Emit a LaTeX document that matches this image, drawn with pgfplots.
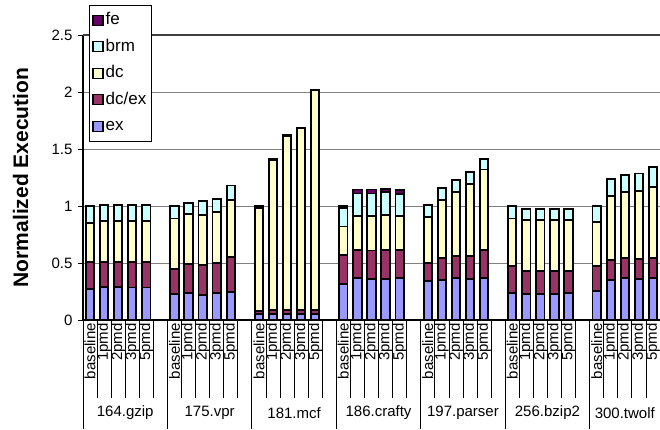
\documentclass[border=0pt]{standalone}
\usepackage{fontspec}
\setmainfont{Liberation Sans}
\usepackage{pgfplots}
\usepackage{pgfplotstable}
\pgfplotsset{compat=1.18}
\definecolor{cex}{HTML}{9999FF}
\definecolor{cdcex}{HTML}{993366}
\definecolor{cdc}{HTML}{FFFFCC}
\definecolor{cbrm}{HTML}{CCFFFF}
\definecolor{cfe}{HTML}{660066}

\pgfplotstableread{
x ex dcex dc brm fe
0 0.27 0.24 0.34 0.15 0
1 0.29 0.215 0.36 0.145 0
2 0.29 0.215 0.36 0.145 0
3 0.285 0.22 0.36 0.14 0
4 0.285 0.22 0.36 0.14 0
6 0.23 0.22 0.44 0.11 0
7 0.24 0.25 0.44 0.10 0
8 0.22 0.26 0.44 0.12 0
9 0.24 0.26 0.45 0.11 0
10 0.245 0.305 0.505 0.125 0
12 0.05 0.03 0.905 0.01 0.005
13 0.05 0.04 1.31 0.01 0
14 0.05 0.04 1.52 0.01 0
15 0.05 0.04 1.59 0.005 0
16 0.05 0.04 1.925 0.005 0
18 0.315 0.255 0.25 0.165 0.015
19 0.365 0.25 0.30 0.195 0.035
20 0.36 0.25 0.305 0.195 0.035
21 0.36 0.255 0.305 0.20 0.03
22 0.365 0.25 0.30 0.19 0.035
24 0.345 0.155 0.40 0.105 0
25 0.35 0.195 0.505 0.11 0
26 0.365 0.20 0.555 0.11 0
27 0.36 0.205 0.625 0.11 0
28 0.365 0.25 0.705 0.09 0
30 0.235 0.235 0.42 0.11 0
31 0.23 0.20 0.445 0.10 0
32 0.23 0.20 0.445 0.10 0
33 0.23 0.20 0.445 0.10 0
34 0.235 0.195 0.445 0.10 0
36 0.255 0.215 0.39 0.14 0
37 0.35 0.18 0.555 0.155 0
38 0.365 0.175 0.58 0.15 0
39 0.36 0.175 0.60 0.15 0
40 0.365 0.18 0.625 0.17 0
}\data

\begin{document}
\begin{tikzpicture}
\begin{axis}[
  scale only axis, width=577pt, height=285pt,
  xmin=-0.5, xmax=40.5, ymin=0, ymax=2.5,
  ybar stacked, bar width=8.3pt,
  axis lines*=left,
  axis line style={black, line width=1.2pt},
  ytick={0,0.5,1,1.5,2},
  extra y ticks={2.5},
  extra y tick style={grid style={black!75, line width=1.5pt}},
  ymajorgrids,
  grid style={black!50, line width=0.8pt},
  tick align=outside, major tick length=5pt,
  ytick style={black, line width=0.8pt},
  xtick style={draw=none},
  xtick={0,1,2,3,4,6,7,8,9,10,12,13,14,15,16,18,19,20,21,22,24,25,26,27,28,30,31,32,33,34,36,37,38,39,40},
  xticklabels={baseline,1pmd,2pmd,3pmd,5pmd,baseline,1pmd,2pmd,3pmd,5pmd,baseline,1pmd,2pmd,3pmd,5pmd,baseline,1pmd,2pmd,3pmd,5pmd,baseline,1pmd,2pmd,3pmd,5pmd,baseline,1pmd,2pmd,3pmd,5pmd,baseline,1pmd,2pmd,3pmd,5pmd},
  xticklabel style={rotate=90, anchor=east, inner sep=1pt, font=\fontsize{15}{15}\selectfont},
  xticklabel shift=-3pt,
  yticklabel style={font=\fontsize{15}{15}\selectfont},
  yticklabel shift=2pt,
  /pgf/number format/assume math mode=true,
  ylabel={Normalized Execution},
  ylabel style={at={(axis description cs:-0.108,0.5)}, anchor=center, rotate=0, font=\fontsize{21}{21}\selectfont\bfseries},
  legend style={at={(axis description cs:0.0104,1.105)}, anchor=north west, draw=black, line width=0.8pt,
    font=\fontsize{17}{17}\selectfont, row sep=7pt, inner xsep=3pt, inner ysep=5pt,
    nodes={inner sep=2pt, text height=12.5pt, text depth=3pt, anchor=west}},
  legend cell align=left,
  legend image code/.code={\draw[#1, line width=1.3pt] (0pt,-5pt) rectangle (10pt,5pt);},
  reverse legend,
  clip=false,
  every axis plot/.append style={draw=black, line width=1.9pt},
]
\addplot[fill=cex] table[x=x, y=ex] {\data};
\addlegendentry{ex}
\addplot[fill=cdcex] table[x=x, y=dcex] {\data};
\addlegendentry{dc/ex}
\addplot[fill=cdc] table[x=x, y=dc] {\data};
\addlegendentry{dc}
\addplot[fill=cbrm] table[x=x, y=brm] {\data};
\addlegendentry{brm}
\addplot[fill=cfe] table[x=x, y=fe] {\data};
\addlegendentry{fe}
\pgfplotsinvokeforeach{-0.5,0.5,...,40.5}{\draw[black, line width=0.8pt] (axis cs:#1,0) -- ++(0pt,-78pt);}
\pgfplotsinvokeforeach{-0.5,5.5,11.5,17.5,23.5,29.5,35.5,40.5}{\draw[black, line width=0.8pt] (axis cs:#1,0) -- ++(0pt,-109pt);}
\node[font=\fontsize{15}{15}\selectfont] at (axis cs:2.5,0) [yshift=-93pt] {164.gzip};
\node[font=\fontsize{15}{15}\selectfont] at (axis cs:8.5,0) [yshift=-93pt] {175.vpr};
\node[font=\fontsize{15}{15}\selectfont] at (axis cs:14.5,0) [yshift=-93pt] {181.mcf};
\node[font=\fontsize{15}{15}\selectfont] at (axis cs:20.5,0) [yshift=-93pt] {186.crafty};
\node[font=\fontsize{15}{15}\selectfont] at (axis cs:26.5,0) [yshift=-93pt] {197.parser};
\node[font=\fontsize{15}{15}\selectfont] at (axis cs:32.5,0) [yshift=-93pt] {256.bzip2};
\node[font=\fontsize{15}{15}\selectfont] at (axis cs:38,0) [yshift=-93pt] {300.twolf};
\end{axis}
\pgfresetboundingbox
\path (-83pt,-109pt) rectangle (577pt,320pt);
\end{tikzpicture}
\end{document}
